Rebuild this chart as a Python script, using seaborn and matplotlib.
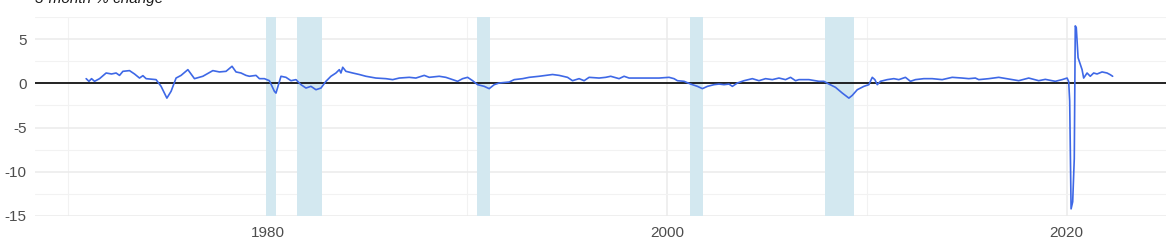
import matplotlib
matplotlib.use("Agg")
import matplotlib.pyplot as plt
import seaborn as sns
import pandas as pd
from matplotlib.ticker import MultipleLocator, FixedLocator

# ---- data ----
years = [
    1970.93, 1971.07, 1971.2, 1971.35, 1971.6, 1971.93, 1972.2, 1972.43, 1972.6, 1972.77,
    1973.1, 1973.35, 1973.6, 1973.77, 1973.93, 1974.43, 1974.68, 1974.97, 1975.18, 1975.43,
    1975.68, 1976.02, 1976.35, 1976.77, 1977.27, 1977.6, 1977.93, 1978.23, 1978.43, 1978.68,
    1978.93, 1979.1, 1979.43, 1979.6, 1979.85, 1980.1, 1980.35, 1980.43, 1980.68, 1980.93,
    1981.18, 1981.43, 1981.68, 1981.93, 1982.18, 1982.43, 1982.68, 1982.93, 1983.18, 1983.43,
    1983.6, 1983.68, 1983.77, 1983.93, 1984.27, 1984.6, 1984.93, 1985.43, 1985.93, 1986.27,
    1986.6, 1987.1, 1987.43, 1987.85, 1988.1, 1988.6, 1988.93, 1989.27, 1989.52, 1989.77,
    1990.02, 1990.27, 1990.52, 1990.85, 1991.1, 1991.35, 1991.6, 1992.1, 1992.35, 1992.77,
    1993.1, 1993.6, 1994.27, 1994.6, 1995.02, 1995.27, 1995.6, 1995.85, 1996.1, 1996.6,
    1996.93, 1997.18, 1997.6, 1997.85, 1998.1, 1998.6, 1999.1, 1999.6, 2000.1, 2000.35,
    2000.52, 2000.85, 2001.18, 2001.52, 2001.77, 2002.02, 2002.35, 2002.6, 2002.85, 2003.1,
    2003.27, 2003.52, 2003.85, 2004.27, 2004.6, 2004.93, 2005.27, 2005.6, 2005.93, 2006.18,
    2006.43, 2006.6, 2007.1, 2007.6, 2007.85, 2008.1, 2008.43, 2008.77, 2009.1, 2009.27,
    2009.52, 2009.85, 2010.1, 2010.27, 2010.4, 2010.52, 2010.68, 2011.02, 2011.35, 2011.6,
    2011.93, 2012.18, 2012.43, 2012.85, 2013.27, 2013.77, 2014.27, 2014.77, 2015.1, 2015.43,
    2015.6, 2016.1, 2016.6, 2017.1, 2017.6, 2018.1, 2018.6, 2018.93, 2019.43, 2019.77,
    2020.02, 2020.1, 2020.15, 2020.22, 2020.3, 2020.38, 2020.43, 2020.48, 2020.57, 2020.77,
    2020.85, 2021.02, 2021.18, 2021.35, 2021.52, 2021.77, 2022.02, 2022.18, 2022.3,
]
pct_change = [
    0.53, 0.23, 0.53, 0.23, 0.53, 1.17, 1.06, 1.17, 0.9, 1.36,
    1.44, 1.06, 0.6, 0.87, 0.53, 0.42, -0.34, -1.67, -0.9, 0.6,
    0.9, 1.55, 0.53, 0.8, 1.44, 1.29, 1.36, 1.93, 1.29, 1.17,
    0.9, 0.8, 0.9, 0.53, 0.53, 0.3, -0.9, -1.1, 0.8, 0.68,
    0.3, 0.42, -0.15, -0.53, -0.34, -0.72, -0.53, 0.23, 0.8, 1.17,
    1.55, 1.17, 1.82, 1.36, 1.17, 1.0, 0.8, 0.6, 0.53, 0.42,
    0.6, 0.68, 0.6, 0.9, 0.68, 0.8, 0.68, 0.42, 0.23, 0.53,
    0.68, 0.3, -0.15, -0.34, -0.6, -0.15, 0.04, 0.15, 0.42, 0.53,
    0.68, 0.8, 1.0, 0.9, 0.68, 0.3, 0.53, 0.3, 0.68, 0.6,
    0.68, 0.8, 0.53, 0.8, 0.6, 0.6, 0.6, 0.6, 0.68, 0.53,
    0.3, 0.23, -0.08, -0.34, -0.6, -0.34, -0.15, -0.08, -0.15, -0.08,
    -0.34, 0.04, 0.3, 0.53, 0.3, 0.53, 0.42, 0.6, 0.42, 0.68,
    0.3, 0.42, 0.42, 0.23, 0.23, -0.08, -0.45, -1.1, -1.67, -1.36,
    -0.72, -0.34, -0.15, 0.68, 0.42, -0.15, 0.23, 0.42, 0.53, 0.42,
    0.68, 0.23, 0.42, 0.53, 0.53, 0.42, 0.68, 0.6, 0.53, 0.6,
    0.42, 0.53, 0.68, 0.49, 0.3, 0.6, 0.3, 0.45, 0.23, 0.42,
    0.6, 0.2, -2.0, -14.2, -13.4, -8.5, 6.5, 6.3, 2.9, 1.55,
    0.6, 1.17, 0.8, 1.17, 1.06, 1.29, 1.17, 0.98, 0.8,
]
rec_start = [1979.95, 1981.48, 1990.47, 2001.15, 2007.9]
rec_end = [1980.45, 1982.75, 1991.15, 2001.82, 2009.38]

y_ticks = [-15, -10, -5, 0, 5]
y_tick_labels = ["-15", "-10", "-5", "0", "5"]
x_ticks = [1980, 2000, 2020]
x_tick_labels = ["1980", "2000", "2020"]
title = "3-month % change"

df = pd.DataFrame({"year": years, "pct": pct_change})

sns.set_theme(style="white")
plt.rcParams["font.family"] = ["Liberation Sans", "DejaVu Sans"]

W, H = 1176, 249
fig = plt.figure(figsize=(W / 100, H / 100), dpi=100)
ax = fig.add_axes([35 / W, (H - 216.4) / H, (1166 - 35) / W, (216.4 - 16.6) / H])

ax.set_xlim(1968.37, 2024.97)
ax.set_ylim(-15.05, 7.55)

# grid
ax.xaxis.set_major_locator(FixedLocator(x_ticks))
ax.xaxis.set_minor_locator(FixedLocator([1970, 1990, 2010]))
ax.yaxis.set_major_locator(FixedLocator(y_ticks))
ax.yaxis.set_minor_locator(FixedLocator([-12.5, -7.5, -2.5, 2.5, 7.5]))
ax.grid(True, which="major", color="#ebebeb", linewidth=1.1)
ax.grid(True, which="minor", color="#f2f2f2", linewidth=0.8)
ax.set_axisbelow(True)

for s, e in zip(rec_start, rec_end):
    ax.axvspan(s, e, color="#d3e8f0", linewidth=0, zorder=1)

ax.axhline(0, color="black", linewidth=1.2, zorder=2)

sns.lineplot(data=df, x="year", y="pct", ax=ax, color="#3e68e6",
             linewidth=1.2, zorder=3)

ax.set_xticks(x_ticks)
ax.set_xticklabels(x_tick_labels)
ax.set_yticks(y_ticks)
ax.set_yticklabels(y_tick_labels)
ax.tick_params(axis="both", which="both", length=0, labelsize=11, labelcolor="#4d4d4d")
ax.tick_params(axis="x", pad=7)
ax.tick_params(axis="y", pad=6)
ax.set_xlabel("")
ax.set_ylabel("")
for sp in ax.spines.values():
    sp.set_visible(False)

fig.text(35 / W, 1 - 3.5 / H, title, fontsize=11, style="italic",
         color="#1a1a1a", ha="left", va="baseline")

fig.savefig("out.png", dpi=100, facecolor="white")
